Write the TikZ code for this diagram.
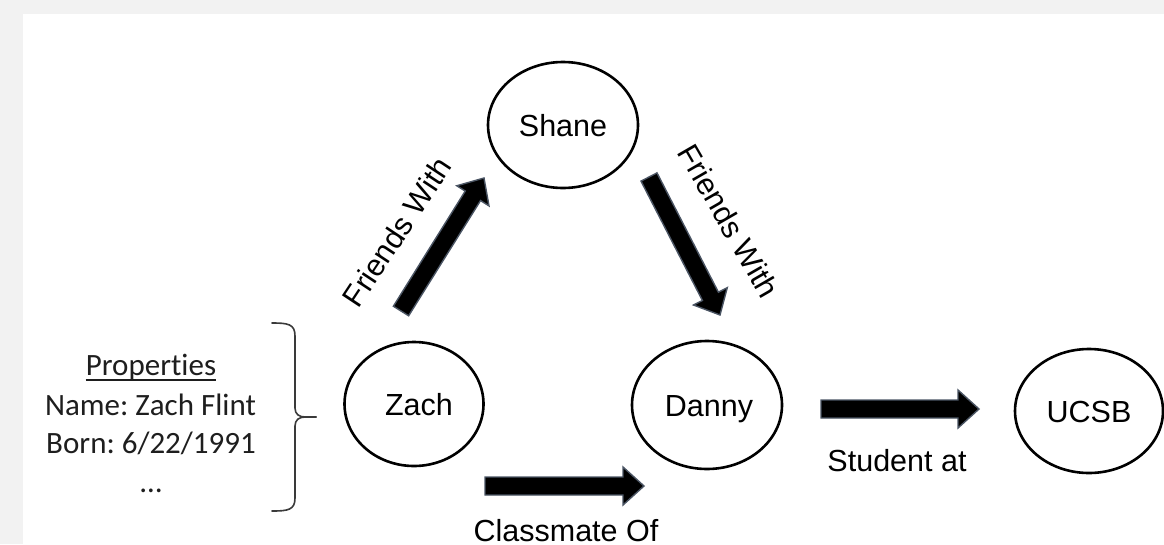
\documentclass[tikz,border=0pt]{standalone}
\usepackage{fontspec}
\setmainfont{Liberation Sans}
\newfontfamily\calib[Ligatures=NoCommon]{Carlito}
\usetikzlibrary{calc,shapes.geometric}
\definecolor{bggray}{HTML}{F2F2F2}
\definecolor{arrowedge}{RGB}{75,85,100}
\definecolor{bracegray}{HTML}{3A3A3A}
\definecolor{proptext}{HTML}{1E1E1E}
\frenchspacing
\tikzset{
  entity/.style={ellipse, draw=black, line width=2.6pt, inner sep=0pt,
    font=\fontsize{30.5}{36}\selectfont, text height=22pt, text depth=0pt},
  blockarr/.style={fill=black, draw=arrowedge, line width=1.4pt, line join=miter},
  rellabel/.style={font=\fontsize{30.5}{36}\selectfont, inner sep=0pt},
  proplabel/.style={font=\calib\fontsize{31}{36}\selectfont, text=proptext, inner sep=0pt, anchor=base},
  bracestyle/.style={draw=bracegray, line width=1.6pt, line cap=round, line join=round}
}
\newcommand\blockarrow[2]{%
  \coordinate (bah) at ($(#2)!21pt!(#1)$);
  \path[blockarr] ($(#1)!9pt!90:(#2)$) -- ($(bah)!9pt!90:(#2)$) -- ($(bah)!19pt!90:(#2)$)
    -- (#2) -- ($(bah)!19pt!-90:(#2)$) -- ($(bah)!9pt!-90:(#2)$) -- ($(#1)!9pt!-90:(#2)$) -- cycle;
}
\begin{document}
\begin{tikzpicture}[x=1pt,y=-1pt]
\useasboundingbox (0,0) rectangle (1164,544);
\fill[bggray] (0,0) rectangle (1164,544);
\fill[white] (23,14) rectangle (1164,544);

% entities
\node[entity, minimum width=150pt, minimum height=126pt] (shane) at (563,125) {Shane};
\node[entity, minimum width=139pt, minimum height=124pt] (zach) at (414,404) {\hspace*{10pt}Zach};
\node[entity, minimum width=150pt, minimum height=128pt] (danny) at (707,405) {\hspace*{4pt}Danny};
\node[entity, minimum width=148pt, minimum height=124pt] (ucsb) at (1089,411) {UCSB};

% block arrows
\coordinate (zs1) at (401,311); \coordinate (zs2) at (484,178);
\coordinate (sd1) at (649,177); \coordinate (sd2) at (720,315);
\coordinate (zd1) at (485,486); \coordinate (zd2) at (644,486);
\coordinate (du1) at (821,409); \coordinate (du2) at (979,409);
\blockarrow{zs1}{zs2}
\blockarrow{sd1}{sd2}
\blockarrow{zd1}{zd2}
\blockarrow{du1}{du2}

% relation labels
\node[rellabel, rotate=56.5] (lzs) at (397,232) {Friends With};
\node[rellabel, rotate=-60] (lsd) at (729,221) {Friends With};
\node[rellabel, anchor=base] (lzd) at (566,541) {Classmate Of};
\node[rellabel, anchor=base] (ldu) at (897,471) {Student at};

% properties
\node[proplabel] (p0) at (151,375) {Properties};
\node[proplabel] (p1) at (150.5,415) {Name: Zach Flint};
\node[proplabel] (p2) at (151,453) {Born: 6/22/1991};
\node[proplabel] (p3) at (151,492) {\ldots};
\draw[draw=proptext, line width=1.3pt] ([yshift=-5pt]p0.base west) -- ([yshift=-5pt]p0.base east);

% brace
\coordinate (btop) at (272,323);
\coordinate (btip) at (316,417);
\coordinate (bbot) at (272,511);
\path[bracestyle] (btop) .. controls (288,323) and (295,324) .. (295,336) -- (295,408)
  .. controls (295,414) and (299,417) .. (305,417) -- (btip);
\path[bracestyle] (btip) -- (305,417) .. controls (299,417) and (295,420) .. (295,426)
  -- (295,498) .. controls (295,510) and (288,511) .. (bbot);
\end{tikzpicture}
\end{document}
